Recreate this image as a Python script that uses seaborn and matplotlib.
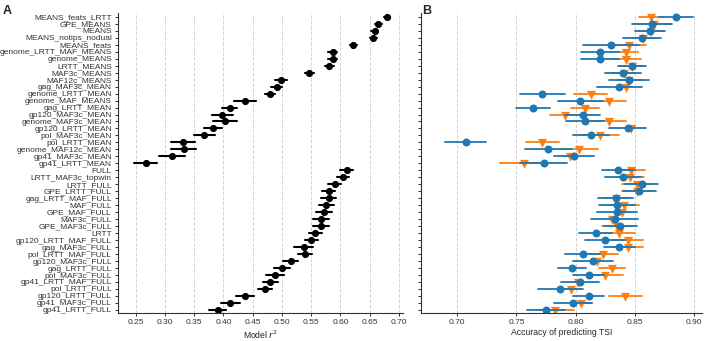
import numpy as np
import pandas as pd
import matplotlib.pyplot as plt
import seaborn as sns

# model names, top to bottom
models = [
    "MEANS_feats_LRTT", "GPE_MEANS", "MEANS", "MEANS_notips_nodual", "MEANS_feats",
    "genome_LRTT_MAF_MEANS", "genome_MEANS", "LRTT_MEANS", "MAF3c_MEANS", "MAF12c_MEANS",
    "gag_MAF3c_MEAN", "genome_LRTT_MEAN", "genome_MAF_MEANS", "gag_LRTT_MEAN",
    "gp120_MAF3c_MEAN", "genome_MAF3c_MEAN", "gp120_LRTT_MEAN", "pol_MAF3c_MEAN",
    "pol_LRTT_MEAN", "genome_MAF12c_MEAN", "gp41_MAF3c_MEAN", "gp41_LRTT_MEAN",
    "FULL", "LRTT_MAF3c_topwin", "LRTT_FULL", "GPE_LRTT_FULL", "gag_LRTT_MAF_FULL",
    "MAF_FULL", "GPE_MAF_FULL", "MAF3c_FULL", "GPE_MAF3c_FULL", "LRTT",
    "gp120_LRTT_MAF_FULL", "gag_MAF3c_FULL", "pol_LRTT_MAF_FULL", "gp120_MAF3c_FULL",
    "gag_LRTT_FULL", "pol_MAF3c_FULL", "gp41_LRTT_MAF_FULL", "pol_LRTT_FULL",
    "gp120_LRTT_FULL", "gp41_MAF3c_FULL", "gp41_LRTT_FULL",
]

# panel A: model r^2 and half-width of interval
r2 = [0.680, 0.665, 0.659, 0.656, 0.622, 0.587, 0.587, 0.581, 0.547, 0.499,
      0.491, 0.480, 0.437, 0.411, 0.398, 0.403, 0.382, 0.367, 0.331, 0.332,
      0.312, 0.267,
      0.611, 0.605, 0.590, 0.580, 0.580, 0.576, 0.572, 0.567, 0.567, 0.557,
      0.550, 0.537, 0.540, 0.515, 0.500, 0.488, 0.480, 0.471, 0.437, 0.412, 0.390]
r2_err = [0.005, 0.006, 0.006, 0.006, 0.006, 0.008, 0.008, 0.008, 0.008, 0.010,
          0.009, 0.009, 0.018, 0.013, 0.018, 0.020, 0.015, 0.018, 0.020, 0.021,
          0.022, 0.020,
          0.011, 0.010, 0.011, 0.011, 0.013, 0.013, 0.013, 0.014, 0.014, 0.011,
          0.011, 0.016, 0.012, 0.013, 0.014, 0.015, 0.013, 0.012, 0.015, 0.016, 0.014]

# panel B: accuracy of predicting TSI (blue circles / orange triangles)
acc_blue = [0.885, 0.865, 0.863, 0.856, 0.830, 0.821, 0.821, 0.848, 0.840, 0.845,
            0.837, 0.772, 0.804, 0.764, 0.806, 0.808, 0.844, 0.813, 0.707, 0.777,
            0.799, 0.773,
            0.836, 0.840, 0.856, 0.854, 0.834, 0.835, 0.835, 0.833, 0.838, 0.817,
            0.825, 0.837, 0.806, 0.815, 0.797, 0.811, 0.804, 0.787, 0.811, 0.798, 0.775]
acc_blue_err = [0.014, 0.017, 0.013, 0.016, 0.024, 0.016, 0.016, 0.012, 0.015, 0.017,
                0.019, 0.019, 0.019, 0.014, 0.015, 0.016, 0.016, 0.015, 0.017, 0.020,
                0.017, 0.020,
                0.014, 0.015, 0.014, 0.014, 0.015, 0.015, 0.017, 0.020, 0.014, 0.014,
                0.017, 0.013, 0.015, 0.017, 0.012, 0.013, 0.016, 0.019, 0.013, 0.016, 0.016]
acc_orange = [0.864, 0.866, 0.864, 0.857, 0.845, 0.843, 0.843, 0.848, 0.841, 0.845,
              0.843, 0.813, 0.828, 0.808, 0.791, 0.828, 0.847, 0.821, 0.772, 0.803,
              0.795, 0.756,
              0.847, 0.846, 0.852, 0.852, 0.834, 0.841, 0.839, 0.831, 0.835, 0.837,
              0.844, 0.844, 0.823, 0.818, 0.831, 0.825, 0.802, 0.796, 0.842, 0.805, 0.783]
acc_orange_err = [0.010, 0.015, 0.010, 0.010, 0.015, 0.010, 0.012, 0.010, 0.010, 0.010,
                  0.004, 0.014, 0.015, 0.012, 0.013, 0.015, 0.004, 0.016, 0.014, 0.016,
                  0.004, 0.020,
                  0.012, 0.012, 0.013, 0.013, 0.010, 0.013, 0.005, 0.004, 0.013, 0.013,
                  0.013, 0.013, 0.013, 0.004, 0.011, 0.015, 0.004, 0.009, 0.014, 0.009, 0.016]


def interval_frame(vals, errs):
    # three rows per model (low, estimate, high) -> median + min/max interval
    rows = []
    for m, v, e in zip(models, vals, errs):
        for x in (v - e, v, v + e):
            rows.append({"model": m, "value": x})
    return pd.DataFrame(rows)


sns.set_theme(style="ticks")
plt.rcParams["font.family"] = ["Liberation Sans", "DejaVu Sans"]

fig = plt.figure(figsize=(7.07, 3.41), dpi=100)
axA = fig.add_axes([0.167, 0.082, 0.403, 0.881])
axB = fig.add_axes([0.595, 0.082, 0.398, 0.881])

span = lambda v: (v.min(), v.max())

sns.pointplot(data=interval_frame(r2, r2_err), x="value", y="model", order=models,
              estimator="median", errorbar=span, color="black", linestyle="none",
              markers="o", markersize=3.1, err_kws={"linewidth": 1.5}, ax=axA)

sns.pointplot(data=interval_frame(acc_orange, acc_orange_err), x="value", y="model",
              order=models, estimator="median", errorbar=span, color="#ff7f0e",
              linestyle="none", markers="v", markersize=3.2,
              err_kws={"linewidth": 1.3}, ax=axB)
sns.pointplot(data=interval_frame(acc_blue, acc_blue_err), x="value", y="model",
              order=models, estimator="median", errorbar=span, color="#1f77b4",
              linestyle="none", markers="o", markersize=3.7,
              err_kws={"linewidth": 1.3}, ax=axB)

for ax in (axA, axB):
    ax.set_ylim(42.45, -0.6)
    ax.set_ylabel("")
    ax.grid(axis="x", linestyle="--", color="#d4d4d4", linewidth=0.7)
    ax.set_axisbelow(True)
    ax.tick_params(axis="both", labelsize=6, length=2.5, width=0.7,
                   colors="#333333", pad=2)
    for s in ("left", "bottom"):
        ax.spines[s].set_linewidth(0.8)
        ax.spines[s].set_color("#333333")
    sns.despine(ax=ax)

axA.set_xlim(0.22, 0.707)
axA.set_xticks(np.arange(0.25, 0.701, 0.05))
axA.set_xlabel("Model $r^2$", fontsize=6.2, labelpad=1.5)

axB.set_xlim(0.669, 0.907)
axB.set_xticks([0.70, 0.75, 0.80, 0.85, 0.90])
axB.set_yticklabels([])
axB.set_xlabel("Accuracy of predicting TSI", fontsize=6.2, labelpad=1.5)

fig.text(0.004, 0.985, "A", fontsize=9, fontweight="bold", va="top")
fig.text(0.597, 0.985, "B", fontsize=9, fontweight="bold", va="top")

fig.savefig("out.png", dpi=100)
